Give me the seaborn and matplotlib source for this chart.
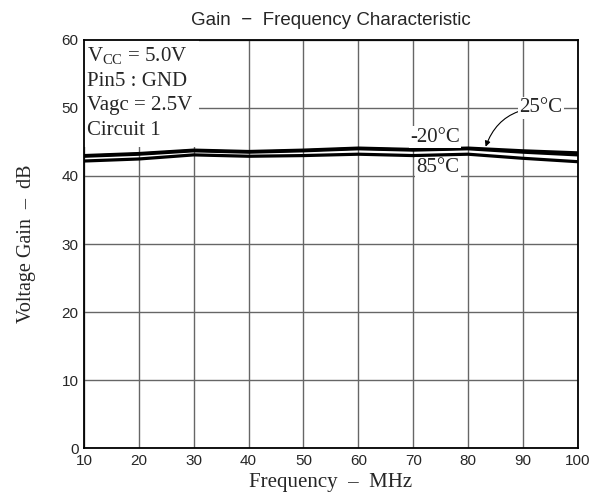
import numpy as np
import pandas as pd
import matplotlib
matplotlib.use("Agg")
import matplotlib.pyplot as plt
import seaborn as sns

sns.set_style("whitegrid")
plt.rcParams['font.family'] = ['Liberation Sans', 'DejaVu Sans']
plt.rcParams['mathtext.fontset'] = 'custom'
plt.rcParams['mathtext.rm'] = 'Liberation Serif'
plt.rcParams['mathtext.it'] = 'Liberation Serif:italic'

# data
freq = [10, 20, 30, 40, 50, 60, 70, 80, 90, 100]
gain_25 = [43.0, 43.3, 43.8, 43.6, 43.8, 44.1, 43.9, 44.1, 43.7, 43.4]
gain_m20 = [42.9, 43.2, 43.7, 43.5, 43.7, 44.0, 43.8, 44.0, 43.5, 43.1]
gain_85 = [42.2, 42.5, 43.1, 42.9, 43.0, 43.2, 43.0, 43.2, 42.6, 42.1]

df = pd.DataFrame({'freq': freq * 3,
                   'gain': gain_25 + gain_m20 + gain_85,
                   'temp': ['25'] * 10 + ['-20'] * 10 + ['85'] * 10})

serif = ['Liberation Serif', 'DejaVu Serif']

fig = plt.figure(figsize=(6, 4.99), dpi=100)
ax = fig.add_axes([0.14, 0.102, 0.823, 0.818])

sns.lineplot(data=df, x='freq', y='gain', units='temp', estimator=None,
             color='black', linewidth=2.3, ax=ax, legend=False, zorder=3)

ax.set_xlim(10, 100)
ax.set_ylim(0, 60)
ax.set_xticks(np.arange(10, 101, 10))
ax.set_yticks(np.arange(0, 61, 10))
ax.tick_params(length=0, labelsize=11, pad=4)
ax.grid(True, color='#666666', linewidth=1.0)
for s in ax.spines.values():
    s.set_color('black')
    s.set_linewidth(1.3)
    s.set_zorder(6)

ax.set_title('Gain  \u2212  Frequency Characteristic', fontsize=13.5, pad=11)
ax.set_xlabel('Frequency  \u2013  MHz', family=serif, fontsize=15, labelpad=4)
ax.set_ylabel('Voltage Gain  \u2013  dB', family=serif, fontsize=14.5, labelpad=18)

ax.text(10.55, 59.3, 'V$_{\\rm CC}$ = 5.0V\nPin5 : GND\nVagc = 2.5V\nCircuit 1',
        family=serif, fontsize=15, va='top', ha='left', linespacing=1.42,
        bbox=dict(facecolor='white', edgecolor='none', pad=5), zorder=4)

bb = dict(facecolor='white', edgecolor='none', pad=1)
ax.text(74.0, 45.7, '-20\u00b0C', family=serif, fontsize=15, ha='center',
        va='center', bbox=bb, zorder=4)
ax.text(74.5, 41.2, '85\u00b0C', family=serif, fontsize=15, ha='center',
        va='center', bbox=bb, zorder=4)
ax.annotate('25\u00b0C', xy=(83.2, 44.3), xytext=(93.3, 50.0),
            family=serif, fontsize=15, ha='center', va='center', bbox=bb,
            arrowprops=dict(arrowstyle='-|>', color='black', lw=0.8,
                            connectionstyle='arc3,rad=0.35', shrinkA=0,
                            shrinkB=0, mutation_scale=8),
            zorder=4)

fig.savefig('out.png', dpi=100)
